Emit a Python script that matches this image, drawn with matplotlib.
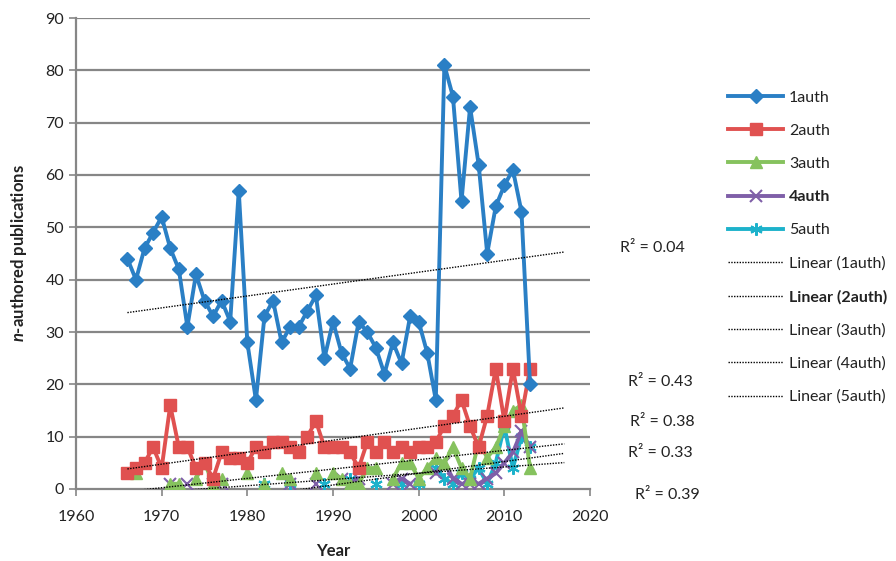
import numpy as np
import matplotlib
matplotlib.use("Agg")
import matplotlib.pyplot as plt
from matplotlib.lines import Line2D

plt.rcParams['font.family'] = ['Lato', 'DejaVu Sans']
plt.rcParams['mathtext.fontset'] = 'custom'
plt.rcParams['mathtext.it'] = 'Lato:style=italic:weight=bold'
plt.rcParams['mathtext.rm'] = 'Lato:weight=bold'

years = list(range(1966, 2014))
nan = np.nan

auth1 = [44, 40, 46, 49, 52, 46, 42, 31, 41, 36, 33, 36, 32, 57, 28, 17,
         33, 36, 28, 31, 31, 34, 37, 25, 32, 26, 23, 32, 30, 27, 22, 28,
         24, 33, 32, 26, 17, 81, 75, 55, 73, 62, 45, 54, 58, 61, 53, 20]
auth2 = [3, 4, 5, 8, 4, 16, 8, 8, 4, 5, 2, 7, 6, 6, 5, 8,
         7, 9, 9, 8, 7, 10, 13, 8, 8, 8, 7, 4, 9, 7, 9, 7,
         8, 7, 8, 8, 9, 12, 14, 17, 12, 8, 14, 23, 13, 23, 14, 23]
auth3 = [nan, 3, nan, nan, nan, 1, 1, nan, 2, 5, 1, 2, nan, nan, 3, nan,
         1, nan, 3, 2, nan, nan, 3, nan, 3, 2, 1, 1, 4, 4, nan, 2,
         5, 5, 2, 4, 6, 5, 8, 4, 2, 9, 6, 8, 12, 15, 16, 4]
auth4 = [nan, nan, nan, nan, nan, 1, nan, 1, nan, nan, 1, 1, nan, nan, nan, nan,
         nan, nan, nan, 1, nan, nan, 1, nan, nan, 2, 1, 2, nan, nan, nan, 1,
         2, 1, nan, nan, 3, 5, 2, 1, 1, 1, 2, 3, 5, 7, 11, 8]
auth5 = [nan, nan, nan, nan, nan, nan, nan, nan, nan, nan, nan, nan, nan, nan, nan, nan,
         1, nan, nan, 1, nan, nan, nan, 1, nan, nan, 2, nan, nan, 1, nan, nan,
         1, nan, 1, nan, 4, 2, 1, 3, 2, 4, 1, 5, 12, 4, 10, 8]

series_names = ['1auth', '2auth', '3auth', '4auth', '5auth']
trend_names = ['Linear (1auth)', 'Linear (2auth)', 'Linear (3auth)',
               'Linear (4auth)', 'Linear (5auth)']
r2_labels = ['R² = 0.04', 'R² = 0.43', 'R² = 0.38', 'R² = 0.33', 'R² = 0.39']
x_ticks = [1960, 1970, 1980, 1990, 2000, 2010, 2020]
y_ticks = [0, 10, 20, 30, 40, 50, 60, 70, 80, 90]

colors = ['#2A7FC5', '#E05150', '#86C25E', '#7F5FA8', '#1DB2CB']
markers = ['D', 's', '^', 'x', (6, 2, 0)]
msizes = [7, 8, 9, 8, 9]

fig = plt.figure(figsize=(8.96, 5.61), dpi=100)
ax = fig.add_axes([76/896, 1-489/561, (590-76)/896, (489-18)/561])

grid_c = '#868686'
for y in y_ticks[1:]:
    ax.axhline(y, color=grid_c, lw=1.6, zorder=0)

data = [auth1, auth2, auth3, auth4, auth5]
yr = np.array(years, dtype=float)
handles = []
for i, (d, c, m, ms) in enumerate(zip(data, colors, markers, msizes)):
    arr = np.array(d, dtype=float)
    mew = 1.5 if i >= 3 else 1
    ax.plot(yr, arr, color=c, lw=2.8, marker=m, ms=ms, mew=mew,
            mec=c, mfc=c, zorder=3 + (4 - i) * 0.1 if i > 0 else 4)
    handles.append(Line2D([], [], color=c, lw=2.8, marker=m, ms=ms,
                          mew=mew, mec=c, mfc=c))

# linear trend lines, extended forward to 2017
for i, d in enumerate(data):
    arr = np.array(d, dtype=float)
    ok = ~np.isnan(arr)
    k, b = np.polyfit(yr[ok], arr[ok], 1)
    x0 = yr[ok][0]
    xs = np.array([x0, 2017])
    ax.plot(xs, k * xs + b, color='black', lw=1.0, ls=(0, (1, 1)), zorder=5)
    handles.append(Line2D([], [], color='black', lw=1.0, ls=(0, (1, 1))))

ax.set_xlim(1960, 2020)
ax.set_ylim(0, 90)
ax.set_xticks(x_ticks)
ax.set_yticks(y_ticks)
for s in ['top', 'right']:
    ax.spines[s].set_visible(False)
for s in ['left', 'bottom']:
    ax.spines[s].set_color(grid_c)
    ax.spines[s].set_linewidth(1.6)
ax.tick_params(axis='both', colors=grid_c, length=5, width=1.2,
               labelcolor='#222222', labelsize=11.5)
ax.tick_params(axis='x', pad=10)
ax.set_xlabel('Year', fontsize=12, fontweight='bold', color='#222222', labelpad=14)
ax.set_ylabel('$n$-authored publications', fontsize=12, fontweight='bold',
              color='#222222', labelpad=12)

leg = fig.legend(handles, series_names + trend_names, loc='upper left',
                 bbox_to_anchor=(722/896, 1-84/561), frameon=False,
                 fontsize=11.5, handlelength=3.4, labelspacing=1.19,
                 handletextpad=0.4, borderaxespad=0)
for t in leg.get_texts():
    t.set_color('#222222')
leg.get_texts()[3].set_fontweight('bold')
leg.get_texts()[6].set_fontweight('bold')

r2_pos = [(652, 248), (660, 382), (662, 422), (660, 453), (667, 495)]
for lab, (px, py) in zip(r2_labels, r2_pos):
    fig.text(px/896, 1-py/561, lab, ha='center', va='center',
             fontsize=11.5, color='#222222')

fig.savefig('out.png', dpi=100)
